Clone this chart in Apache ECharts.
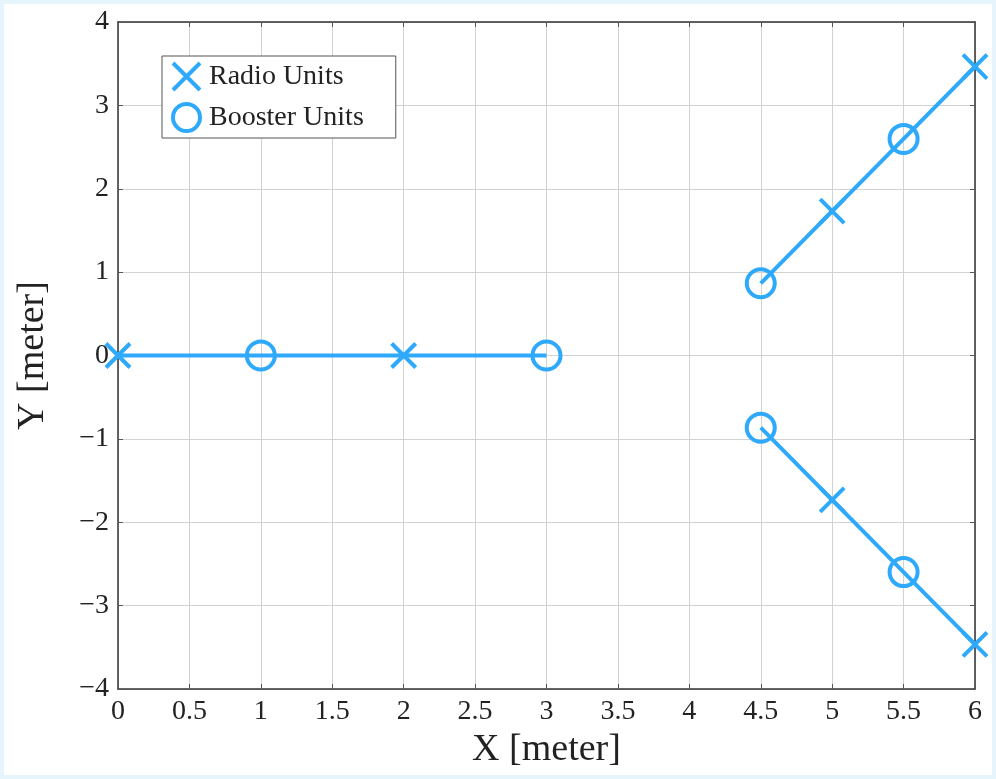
<!DOCTYPE html>
<html>
<head>
<meta charset="utf-8">
<script src="https://cdn.jsdelivr.net/npm/echarts@6/dist/echarts.min.js"></script>
<style>
  html, body { margin: 0; padding: 0; background: #e6f4fc; }
  #chart {
    width: 996px;
    height: 779px;
    box-sizing: border-box;
    border: 4px solid #e6f4fc;
  }
</style>
</head>
<body>
<div id="chart"></div>
<script>
// marker positions
const radioX = [0, 2, 5, 6, 5, 6]
const radioY = [0, 0, 1.732, 3.464, -1.732, -3.464]
const boosterX = [1, 3, 4.5, 5.5, 4.5, 5.5]
const boosterY = [0, 0, 0.866, 2.598, -0.866, -2.598]
// connecting segments
const segMiddle = [[0, 0], [3, 0]]
const segUpper = [[4.5, 0.866], [6, 3.464]]
const segLower = [[4.5, -0.866], [6, -3.464]]

const blue = '#2ea9fb'
const serif = '"Liberation Serif", "DejaVu Serif", serif'
const crossPath = 'path://M0,0L10,10M10,0L0,10'

const zip = (xs, ys) => xs.map((x, i) => [x, ys[i]])
const minusFmt = v => (v < 0 ? '\u2212' + (-v) : String(v))

const lineSeries = (data) => ({
  type: 'line',
  data: data,
  symbol: 'none',
  silent: true,
  lineStyle: { color: blue, width: 4 },
  z: 3,
})

const markerStyle = { color: 'rgba(0,0,0,0)', borderColor: blue, borderWidth: 4, opacity: 1 }

const chart = echarts.init(document.getElementById('chart'))
const option = {
  backgroundColor: '#ffffff',
  animation: false,
  textStyle: { fontFamily: serif },
  grid: { left: 114, right: 17, top: 18, bottom: 86 },
  legend: {
    left: 158,
    top: 52,
    orient: 'vertical',
    selectedMode: false,
    backgroundColor: '#ffffff',
    borderColor: '#555555',
    borderWidth: 1,
    padding: [5, 32, 5, 9],
    itemGap: 10,
    itemWidth: 27,
    itemHeight: 27,
    textStyle: { fontFamily: serif, fontSize: 28, color: '#222', padding: [0, 0, 0, 4] },
    data: [
      { name: 'Radio Units', icon: crossPath, itemStyle: markerStyle },
      { name: 'Booster Units', icon: 'circle', itemStyle: markerStyle },
    ],
  },
  xAxis: [{
    type: 'value',
    min: 0,
    max: 6,
    interval: 0.5,
    name: 'X [meter]',
    nameLocation: 'middle',
    nameGap: 42,
    nameTextStyle: { fontFamily: serif, fontSize: 38, color: '#222' },
    axisLine: { show: true, onZero: false, lineStyle: { color: '#333', width: 1.5 } },
    axisTick: { show: true, inside: true, length: 5, lineStyle: { color: '#555' } },
    axisLabel: { fontFamily: serif, fontSize: 28, color: '#222', margin: 9 },
    splitLine: { show: true, lineStyle: { color: '#d2d2d2', width: 1 } },
  }, {
    type: 'value',
    position: 'top',
    min: 0,
    max: 6,
    interval: 0.5,
    axisLine: { show: true, onZero: false, lineStyle: { color: '#333', width: 1.5 } },
    axisTick: { show: true, inside: true, length: 5, lineStyle: { color: '#555' } },
    axisLabel: { show: false },
    splitLine: { show: false },
  }],
  yAxis: [{
    type: 'value',
    min: -4,
    max: 4,
    interval: 1,
    name: 'Y [meter]',
    nameLocation: 'middle',
    nameGap: 66,
    nameTextStyle: { fontFamily: serif, fontSize: 38, color: '#222' },
    axisLine: { show: true, onZero: false, lineStyle: { color: '#333', width: 1.5 } },
    axisTick: { show: true, inside: true, length: 5, lineStyle: { color: '#555' } },
    axisLabel: { fontFamily: serif, fontSize: 28, color: '#222', margin: 9, formatter: minusFmt },
    splitLine: { show: true, lineStyle: { color: '#d2d2d2', width: 1 } },
  }, {
    type: 'value',
    position: 'right',
    min: -4,
    max: 4,
    interval: 1,
    axisLine: { show: true, onZero: false, lineStyle: { color: '#333', width: 1.5 } },
    axisTick: { show: true, inside: true, length: 5, lineStyle: { color: '#555' } },
    axisLabel: { show: false },
    splitLine: { show: false },
  }],
  series: [
    lineSeries(segMiddle),
    lineSeries(segUpper),
    lineSeries(segLower),
    {
      name: 'Radio Units',
      type: 'scatter',
      data: zip(radioX, radioY),
      symbol: crossPath,
      symbolSize: 24,
      clip: false,
      itemStyle: markerStyle,
      z: 4,
    },
    {
      name: 'Booster Units',
      type: 'scatter',
      data: zip(boosterX, boosterY),
      symbol: 'circle',
      symbolSize: 28,
      clip: false,
      itemStyle: markerStyle,
      z: 4,
    },
  ],
}
chart.setOption(option)
</script>
</body>
</html>
